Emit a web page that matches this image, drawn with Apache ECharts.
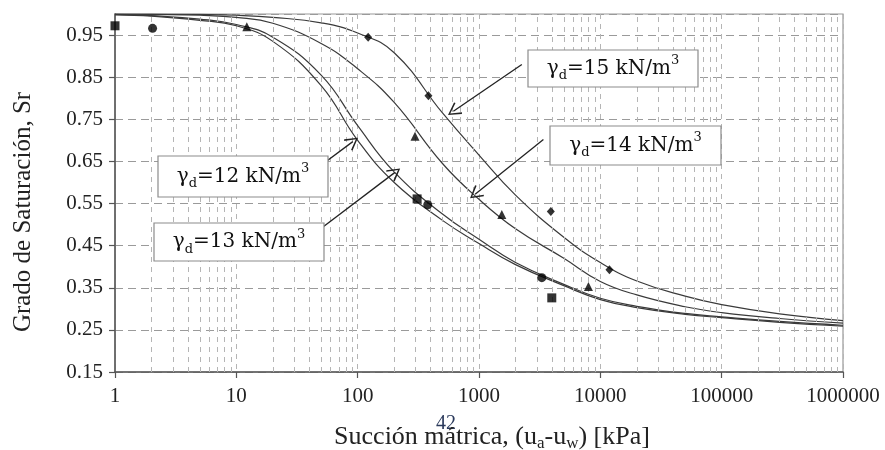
<!DOCTYPE html>
<html>
<head>
<meta charset="utf-8">
<script src="https://cdn.jsdelivr.net/npm/echarts@6/dist/echarts.min.js"></script>
<style>html,body{margin:0;padding:0;background:#fff;}#c{width:885px;height:450px;}</style>
</head>
<body>
<div id="c"></div>
<script>
// ---- data ----
const suction = [1,2,5,10,20,50,100,200,500,1000,2000,5000,10000,20000,50000,100000,300000,1000000];
const fit12 = [0.998,0.995,0.985,0.972,0.935,0.830,0.700,0.600,0.510,0.455,0.405,0.355,0.322,0.303,0.287,0.279,0.268,0.259];
const fit13 = [0.999,0.996,0.988,0.975,0.945,0.855,0.735,0.625,0.525,0.465,0.410,0.358,0.325,0.306,0.289,0.281,0.270,0.261];
const fit14 = [1.000,0.999,0.997,0.992,0.978,0.930,0.870,0.790,0.645,0.560,0.490,0.420,0.365,0.333,0.305,0.291,0.277,0.266];
const fit15 = [1.000,1.000,0.999,0.997,0.992,0.979,0.955,0.908,0.765,0.665,0.570,0.470,0.410,0.366,0.330,0.310,0.288,0.272];

const obs12 = [[1,0.972],[309,0.561],[3980,0.326]];
const obs13 = [[2.04,0.966],[378,0.547],[3295,0.374]];
const obs14 = [[12.2,0.970],[297,0.710],[1541,0.524],[7980,0.353]];
const obs15 = [[122,0.945],[383,0.806],[3909,0.531],[11890,0.393]];

const xTicks = [1,10,100,1000,10000,100000,1000000];
const yTicks = [0.15,0.25,0.35,0.45,0.55,0.65,0.75,0.85,0.95];
const minorGridX = [2,3,4,5,6,7,8,9,20,30,40,50,60,70,80,90,200,300,400,500,600,700,800,900,
  2000,3000,4000,5000,6000,7000,8000,9000,20000,30000,40000,50000,60000,70000,80000,90000,
  200000,300000,400000,500000,600000,700000,800000,900000];

// annotation arrows: [tail, head] in data coordinates
const arrows = [
  [[2254,0.880],[615,0.769]],
  [[3396,0.702],[929,0.572]],
  [[50.6,0.642],[91.2,0.697]],
  [[47.4,0.486],[203,0.624]]
];

// ---- chart ----
const chart = echarts.init(document.getElementById('c'), null, {renderer:'canvas'});
const serif = 'Liberation Serif';
const lineColor = '#3a3a3a';

function fitSeries(name, vals){
  return {name, type:'line', data: suction.map((x,i)=>[x, vals[i]]), smooth:0.45,
    showSymbol:false, symbol:'none', lineStyle:{color:lineColor, width:1.2}, z:3, silent:true, animation:false};
}
function obsSeries(name, pts, sym, size){
  return {name, type:'scatter', data: pts, symbol: sym, symbolSize: size, clip:false,
    itemStyle:{color:'#000'}, z:5, silent:true, animation:false};
}
const chevron = 'path://M50,0 L100,88 L91,95 L50,20 L9,95 L0,88 Z';

function labelBox(x,y,w,h,num){
  return {type:'group', z:100, children:[
    {type:'rect', z:100, shape:{x, y, width:w, height:h}, style:{fill:'#fff', stroke:'#8c8c8c', lineWidth:1.2}},
    {type:'text', z:101, x:x+w/2, y:y+h/2, style:{
      text:'{g|γ}{sub|d}{n|=' + num + ' kN/m}{sup|3}', align:'center', verticalAlign:'middle',
      rich:{
        g:{fontFamily:'DejaVu Serif', fontSize:20, lineHeight:28, fill:'#111'},
        n:{fontFamily:'DejaVu Serif', fontSize:20, lineHeight:28, fill:'#111'},
        sub:{fontFamily:'DejaVu Serif', fontSize:13, lineHeight:13, verticalAlign:'bottom', fill:'#111'},
        sup:{fontFamily:'DejaVu Serif', fontSize:13, lineHeight:13, verticalAlign:'top', fill:'#111'}
      }}}
  ]};
}

const option = {
  backgroundColor:'#fff',
  animation:false,
  grid:{left:115, right:42, top:14, bottom:78, show:true, borderColor:'#999', borderWidth:1.2},
  xAxis:{type:'log', logBase:10, min:1, max:1000000,
    axisLine:{lineStyle:{color:'#555', width:1.5}},
    axisTick:{show:true, length:6, lineStyle:{color:'#555', width:1.2}},
    axisLabel:{fontFamily:serif, fontSize:21, color:'#222', margin:14,
      formatter:(v)=>{ const r = Math.round(v); return xTicks.indexOf(r)>=0 ? String(r) : ''; }},
    splitLine:{show:true, lineStyle:{color:'#b5b5b5', width:1, type:[5,5]}},
    minorTick:{show:false}, minorSplitLine:{show:false}
  },
  yAxis:{type:'value', min:0.15, max:1.0, interval:0.1,
    axisLine:{show:true, lineStyle:{color:'#555', width:1.5}},
    axisTick:{show:true, length:6, lineStyle:{color:'#555', width:1.2}},
    axisLabel:{fontFamily:serif, fontSize:21, color:'#222', margin:12, showMaxLabel:false,
      formatter:(v)=> yTicks.some(t=>Math.abs(t-v)<1e-6) ? v.toFixed(2) : ''},
    splitLine:{show:true, lineStyle:{color:'#9a9a9a', width:1, type:[8,5]}}
  },
  graphic:[
    {type:'text', z:100, x:23, y:212, rotation:Math.PI/2, style:{text:'Grado de Saturación, Sr', font:'25px "Liberation Serif"', fill:'#222', align:'center', verticalAlign:'middle'}},
    {type:'text', z:100, x:492, y:437, style:{
      text:'{m|Succión mátrica, (u}{s|a}{m|-u}{s|w}{m|) [kPa]}', align:'center', verticalAlign:'middle',
      rich:{
        m:{fontFamily:serif, fontSize:26, lineHeight:30, fill:'#222'},
        s:{fontFamily:serif, fontSize:17, lineHeight:14, verticalAlign:'bottom', fill:'#222'}
      }
    }},
    {type:'text', z:99, x:446, y:424, style:{text:'42', font:'20px "Liberation Serif"', fill:'#2b3a5c', align:'center', verticalAlign:'middle'}},
    labelBox(528,50,170,37,'15'),
    labelBox(550,126,171,39,'14'),
    labelBox(158,156,170,41,'12'),
    labelBox(154,223,170,38,'13')
  ],
  series:[
    {name:'grid-minor', type:'line', data:[], silent:true, z:1,
      markLine:{silent:true, symbol:'none', animation:false, label:{show:false},
        lineStyle:{color:'#b5b5b5', width:1, type:[5,5]},
        data: minorGridX.map(v=>({xAxis:v}))}},
    {name:'arrows', type:'line', data:[], silent:true, z:4,
      markLine:{silent:true, symbol:['none', chevron], symbolSize:[14,13], animation:false, label:{show:false},
        lineStyle:{color:'#222', width:1.3, type:'solid'},
        data: arrows.map(a=>[{coord:a[0]},{coord:a[1]}])}},
    fitSeries('12', fit12), fitSeries('13', fit13), fitSeries('14', fit14), fitSeries('15', fit15),
    obsSeries('o12', obs12, 'rect', 9),
    obsSeries('o13', obs13, 'circle', 9),
    obsSeries('o14', obs14, 'triangle', 9),
    obsSeries('o15', obs15, 'diamond', [8,9])
  ]
};
chart.setOption(option);
</script>
</body>
</html>
